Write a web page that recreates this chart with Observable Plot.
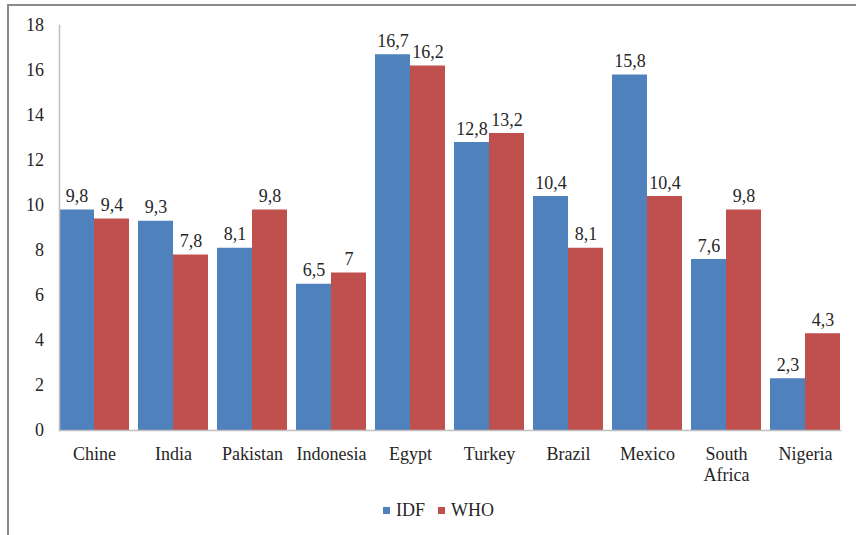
<!DOCTYPE html>
<html>
<head>
<meta charset="utf-8">
<script src="https://cdn.jsdelivr.net/npm/d3@7"></script>
<script src="https://cdn.jsdelivr.net/npm/@observablehq/plot@0.6"></script>
<style>
  html, body { margin: 0; padding: 0; background: #fff; }
  body { width: 856px; height: 535px; position: relative; overflow: hidden; font-family: 'Liberation Serif', serif; }
  svg, svg text, svg tspan, #legend { font-family: 'Liberation Serif', serif !important; }
  #frame { position: absolute; left: 7px; top: 4px; width: 860px; height: 540px; border-top: 2px solid #8a8a8a; border-left: 2px solid #8a8a8a; box-sizing: border-box; }
  #chart { position: absolute; left: 0; top: 0; }
  #legend { position: absolute; top: 500px; left: 383px; display: flex; align-items: center; font-size: 18px; color: #262626; }
  #legend .sw { width: 7px; height: 7px; display: inline-block; margin-right: 6px; }
  #legend .item { display: flex; align-items: center; margin-right: 13px; }
</style>
</head>
<body>
<div id="frame"></div>
<div id="chart"></div>
<div id="legend"></div>
<script>
const countries = ["Chine", "India", "Pakistan", "Indonesia", "Egypt", "Turkey", "Brazil", "Mexico", "South\nAfrica", "Nigeria"];
const series = ["IDF", "WHO"];
const idf = [9.8, 9.3, 8.1, 6.5, 16.7, 12.8, 10.4, 15.8, 7.6, 2.3];
const who = [9.4, 7.8, 9.8, 7, 16.2, 13.2, 8.1, 10.4, 9.8, 4.3];
const colors = ["#4F81BD", "#C0504D"];
const yTicks = [0, 2, 4, 6, 8, 10, 12, 14, 16, 18];

const data = [];
countries.forEach((c, i) => {
  data.push({country: c, series: "IDF", value: idf[i]});
  data.push({country: c, series: "WHO", value: who[i]});
});
const fmt = v => String(v).replace(".", ",");
const textColor = "#262626";
const font = "'Liberation Serif', serif";

const chart = Plot.plot({
  width: 856,
  height: 495,
  marginLeft: 53,
  marginRight: 10,
  marginTop: 25,
  marginBottom: 65,
  style: {fontFamily: font, fontSize: "18px", color: textColor, background: "transparent"},
  fx: {domain: countries, paddingInner: 0.113, paddingOuter: 0.048, label: null},
  x: {domain: series, padding: 0, axis: null},
  y: {domain: [0, 18], label: null},
  color: {domain: series, range: colors},
  marks: [
    Plot.barY(data, {fx: "country", x: "series", y: "value", fill: "series", inset: 0}),
    Plot.text(data, {fx: "country", x: "series", y: "value", text: d => fmt(d.value), lineAnchor: "bottom", dy: -8, fill: textColor, fontSize: 18, fontFamily: font}),
    Plot.frame({anchor: "bottom", stroke: "#bfbfbf", strokeWidth: 1.5, facet: "super"}),
    Plot.frame({anchor: "left", stroke: "#bfbfbf", strokeWidth: 1.5, facet: "super"}),
    Plot.axisY({ticks: yTicks, tickSize: 0, tickPadding: 15.5, label: null, fill: textColor, fontSize: 18, fontFamily: font}),
    Plot.axisFx({anchor: "bottom", tickSize: 0, tickPadding: 14, label: null, lineHeight: 1.18, fill: textColor, fontSize: 18, fontFamily: font})
  ]
});
document.getElementById("chart").appendChild(chart);

const legend = document.getElementById("legend");
series.forEach((s, i) => {
  const item = document.createElement("span");
  item.className = "item";
  const sw = document.createElement("span");
  sw.className = "sw";
  sw.style.background = colors[i];
  item.appendChild(sw);
  item.appendChild(document.createTextNode(s));
  legend.appendChild(item);
});
</script>
</body>
</html>
